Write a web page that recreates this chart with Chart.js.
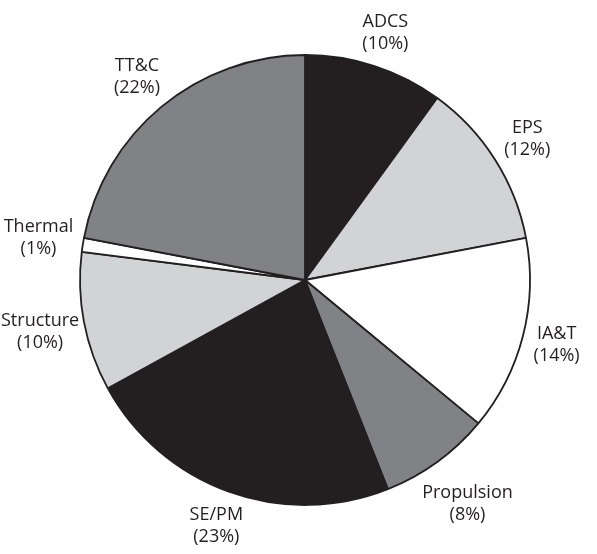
<!DOCTYPE html>
<html>
<head>
<meta charset="utf-8">
<script src="https://cdn.jsdelivr.net/npm/chart.js@4/dist/chart.umd.min.js"></script>
<style>
  html, body { margin: 0; padding: 0; background: #ffffff; }
  #wrap { width: 597px; height: 554px; position: relative; }
</style>
</head>
<body>
<div id="wrap"><canvas id="pie"></canvas></div>
<script>
// Subsystem cost shares, clockwise from 12 o'clock
const subsystems = ['ADCS', 'EPS', 'IA&T', 'Propulsion', 'SE/PM', 'Structure', 'Thermal', 'TT&C'];
const shares = [10, 12, 14, 8, 23, 10, 1, 22];
const fills = ['#231f20', '#d1d3d4', '#ffffff', '#808285', '#231f20', '#d1d3d4', '#ffffff', '#808285'];

const INK = '#231f20';
const LABEL_FONT = '18px "Open Sans", "Noto Sans", sans-serif';
const LINE_H = 22;

// Two-line name / percentage labels placed just outside each slice
const outsideLabels = {
  id: 'outsideLabels',
  afterDatasetsDraw(chart) {
    const ctx = chart.ctx;
    const meta = chart.getDatasetMeta(0);
    const values = chart.data.datasets[0].data;
    const total = values.reduce((a, b) => a + b, 0);
    ctx.save();
    ctx.font = LABEL_FONT;
    ctx.fillStyle = INK;
    ctx.textAlign = 'center';
    ctx.textBaseline = 'middle';
    meta.data.forEach((arc, i) => {
      const p = arc.getProps(['x', 'y', 'startAngle', 'endAngle', 'outerRadius'], true);
      const mid = (p.startAngle + p.endAngle) / 2;
      const dx = Math.cos(mid), dy = Math.sin(mid);
      const l1 = chart.data.labels[i];
      const l2 = '(' + Math.round(values[i] / total * 100) + '%)';
      const w = Math.max(ctx.measureText(l1).width, ctx.measureText(l2).width);
      const h = LINE_H * 2;
      const dist = p.outerRadius + 7 + Math.abs(dx) * w / 2 + Math.abs(dy) * h / 2;
      let cx = p.x + dx * dist;
      let cy = p.y + dy * dist;
      cx = Math.min(Math.max(cx, w / 2 + 1), chart.width - w / 2 - 1);
      cy = Math.min(Math.max(cy, h / 2 + 1), chart.height - h / 2 - 1);
      ctx.fillText(l1, cx, cy - LINE_H / 2);
      ctx.fillText(l2, cx, cy + LINE_H / 2);
    });
    ctx.restore();
  }
};

new Chart(document.getElementById('pie'), {
  type: 'pie',
  data: {
    labels: subsystems,
    datasets: [{
      data: shares,
      backgroundColor: fills,
      borderColor: INK,
      borderWidth: 1.8,
      hoverOffset: 0
    }]
  },
  options: {
    responsive: true,
    maintainAspectRatio: false,
    animation: false,
    radius: 225,
    layout: { padding: { left: 80, right: 67, top: 55, bottom: 49 } },
    plugins: {
      legend: { display: false },
      tooltip: { enabled: false }
    }
  },
  plugins: [outsideLabels]
});
</script>
</body>
</html>
